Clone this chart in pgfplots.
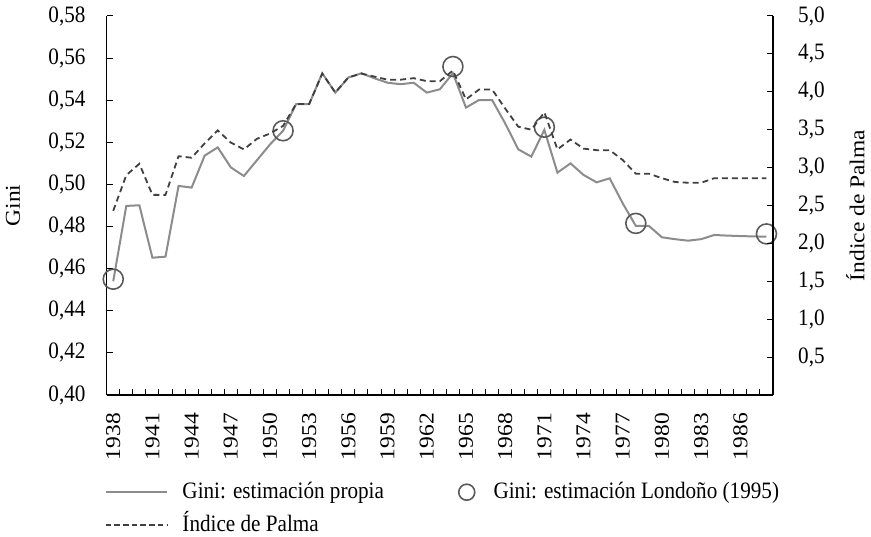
\documentclass[border=0pt]{standalone}
\usepackage{fontspec}
\setmainfont{Liberation Serif}[FakeStretch=0.9]
\newfontfamily\rotfont{Liberation Serif}
\usepackage{pgfplots}
\pgfplotsset{compat=1.18}
\usepackage{pgfplotstable}

\pgfplotsset{circle legend/.style={legend image code/.code={\path[draw=none] (0bp,0bp) -- (61bp,0bp); \draw[##1, mark size=8bp] plot coordinates {(49bp,0bp)};}}}

\pgfplotstableread{
year gini palma
1938 0.4540 2.43
1939 0.4898 2.90
1940 0.4901 3.05
1941 0.4652 2.64
1942 0.4657 2.64
1943 0.4993 3.15
1944 0.4985 3.13
1945 0.5137 3.32
1946 0.5176 3.49
1947 0.5081 3.33
1948 0.5040 3.24
1949 0.5115 3.38
1950 0.5190 3.45
1951 0.5255 3.55
1952 0.5382 3.84
1953 0.5382 3.84
1954 0.5528 4.24
1955 0.5436 3.99
1956 0.5508 4.19
1957 0.5528 4.24
1958 0.5504 4.20
1959 0.5483 4.16
1960 0.5476 4.16
1961 0.5483 4.18
1962 0.5436 4.14
1963 0.5452 4.14
1964 0.5528 4.28
1965 0.5365 3.90
1966 0.5401 4.03
1967 0.5401 4.03
1968 0.5290 3.78
1969 0.5167 3.54
1970 0.5132 3.50
1971 0.5259 3.73
1972 0.5056 3.24
1973 0.5100 3.37
1974 0.5045 3.25
1975 0.5010 3.23
1976 0.5029 3.23
1977 0.4910 3.10
1978 0.4803 2.92
1979 0.4803 2.92
1980 0.4749 2.86
1981 0.4740 2.81
1982 0.4733 2.80
1983 0.4740 2.80
1984 0.4760 2.86
1985 0.4757 2.86
1986 0.4755 2.86
1987 0.4753 2.86
1988 0.4752 2.86
}\datatable

\pgfplotstableread{
year gini
1938 0.4550
1951 0.5255
1964 0.5560
1971 0.5272
1978 0.4815
1988 0.4765
}\londono

\definecolor{giniGray}{RGB}{140,140,140}
\definecolor{palmaDark}{RGB}{64,64,64}
\definecolor{circGray}{RGB}{90,90,90}

\begin{document}
\fontsize{23.5bp}{28bp}\selectfont
\begin{tikzpicture}
\useasboundingbox (0,0) rectangle (871bp,537bp);
\begin{axis}[
  at={(106.7bp,142bp)}, anchor=south west,
  scale only axis, width=666.3bp, height=379bp,
  xmin=1937.5, xmax=1988.5, ymin=0.40, ymax=0.58,
  axis x line*=bottom, axis y line*=left,
  axis line style={line width=1.2bp, black},
  tick align=inside, major tick length=6bp, minor tick length=6bp,
  tick style={line width=1bp, black},
  xtick={1938.5,1939.5,...,1987.5}, xticklabels={},
  extra x ticks={1938,1941,1944,1947,1950,1953,1956,1959,1962,1965,1968,1971,1974,1977,1980,1983,1986},
  extra x tick labels={1938,1941,1944,1947,1950,1953,1956,1959,1962,1965,1968,1971,1974,1977,1980,1983,1986},
  extra x tick style={tick style={draw=none}},
  x tick label style={font=\rotfont, rotate=90, yscale=0.9, anchor=east, inner xsep=18bp},
  ytick={0.40,0.42,0.44,0.46,0.48,0.50,0.52,0.54,0.56,0.58},
  y tick label style={anchor=east, inner xsep=21bp, /pgf/number format/.cd, fixed, fixed zerofill, precision=2, use comma},
  /pgf/number format/assume math mode=true,
  ylabel={Gini},
  every axis y label/.style={at={(rel axis cs:0,0.5)}, xshift=-93.7bp, font=\rotfont, rotate=90, yscale=0.9, anchor=center},
  legend image code/.code={\draw[#1] (0bp,0bp) -- (61bp,0bp);},
  legend columns=2, legend cell align=left,
  legend style={at={(rel axis cs:0,0)}, anchor=north west, xshift=-2.2bp, yshift=-85bp,
    draw=none, fill=none, inner sep=0pt, row sep=9bp,
    nodes={inner xsep=7.8bp, inner ysep=1bp, text height=17bp, text depth=5bp},
    /tikz/every odd column/.append style={column sep=7bp},
    /tikz/every even column/.append style={column sep=26bp}},
]
\addplot[giniGray, line width=2bp] table[x=year, y=gini] {\datatable};
\addlegendentry{Gini: estimación propia}
\addplot[only marks, mark=o, mark size=10bp, circGray, line width=1.6bp, circle legend]
  table[x=year, y=gini] {\londono};
\addlegendentry{Gini: estimación Londoño (1995)}
\addlegendimage{palmaDark, line width=1.8bp, dash pattern=on 5.5bp off 3.2bp}
\addlegendentry{Índice de Palma}
\end{axis}
\begin{axis}[
  at={(106.7bp,142bp)}, anchor=south west,
  scale only axis, width=666.3bp, height=379bp,
  xmin=1937.5, xmax=1988.5, ymin=0, ymax=5,
  axis x line=none, axis y line*=right,
  axis line style={line width=1.2bp, black},
  tick align=inside, major tick length=6bp,
  tick style={line width=1bp, black},
  ytick={0.5,1,1.5,2,2.5,3,3.5,4,4.5,5},
  y tick label style={anchor=west, inner xsep=25bp, /pgf/number format/.cd, fixed, fixed zerofill, precision=1, use comma},
  /pgf/number format/assume math mode=true,
  ylabel={Índice de Palma},
  every axis y label/.style={at={(rel axis cs:1,0.5)}, xshift=82.5bp, font=\rotfont, rotate=90, yscale=0.9, anchor=center},
]
\addplot[palmaDark, line width=1.8bp, dash pattern=on 6bp off 4bp] table[x=year, y=palma] {\datatable};
\end{axis}
\end{tikzpicture}
\end{document}
